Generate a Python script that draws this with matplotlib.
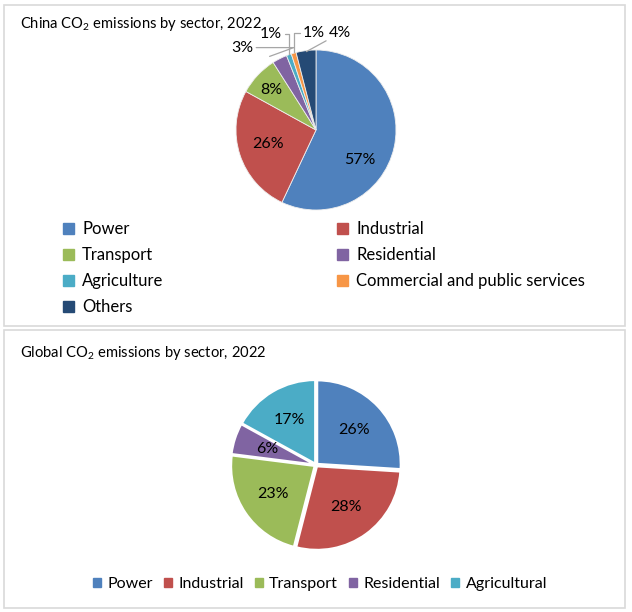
import matplotlib
matplotlib.use("Agg")
import matplotlib.pyplot as plt
from matplotlib.patches import Rectangle, Patch

plt.rcParams['font.family'] = ['Lato', 'DejaVu Sans']
plt.rcParams['mathtext.fontset'] = 'custom'
plt.rcParams['mathtext.rm'] = 'Lato'

# data
china_sectors = ['Power', 'Industrial', 'Transport', 'Residential', 'Agriculture',
                 'Commercial and public services', 'Others']
china_share = [57, 26, 8, 3, 1, 1, 4]
china_colors = ['#4F81BD', '#C0504D', '#9BBB59', '#8064A2', '#4BACC6', '#F79646', '#254A75']

global_sectors = ['Power', 'Industrial', 'Transport', 'Residential', 'Agricultural']
global_share = [26, 28, 23, 6, 17]
global_colors = ['#4F81BD', '#C0504D', '#9BBB59', '#8064A2', '#4BACC6']

W, H = 632, 612
fig = plt.figure(figsize=(W / 100, H / 100), dpi=100)

def px_axes(cx, cy, r):
    return fig.add_axes([(cx - r) / W, 1 - (cy + r) / H, 2 * r / W, 2 * r / H])

# panel borders
for (x0, y0, x1, y1) in [(4, 5, 625, 326), (4, 330, 625, 608)]:
    fig.patches.append(Rectangle((x0 / W, 1 - y1 / H), (x1 - x0) / W, (y1 - y0) / H,
                                 transform=fig.transFigure, fill=False,
                                 edgecolor='#D9D9D9', lw=1.2))

# ---- China pie
ax1 = px_axes(316, 130, 80)
wedges, _ = ax1.pie(china_share, colors=china_colors, startangle=90, counterclock=False,
                    wedgeprops=dict(linewidth=0.6, edgecolor='#EEEEEE'))
ax1.set_xlim(-1, 1)
ax1.set_ylim(-1, 1)
ax1.set_aspect('equal')
ax1.axis('off')

inner_pos = {0: (0.55, -0.37), 1: (-0.6, -0.17), 2: (-0.56, 0.5)}
for i, p in inner_pos.items():
    ax1.text(p[0], p[1], f'{china_share[i]}%', ha='center', va='center', fontsize=11.5)

# outside labels with leader lines
outer = {3: ((-0.92, 1.03), (-0.58, 0.92), 'angle,angleA=0,angleB=20'),
         4: ((-0.56, 1.2), (-0.34, 0.95), 'angle,angleA=0,angleB=90'),
         5: ((-0.03, 1.21), (-0.27, 0.97), 'angle,angleA=180,angleB=90'),
         6: ((0.3, 1.21), (-0.12, 0.98), 'arc3')}
for i, (tp, ep, cs) in outer.items():
    ax1.annotate(f'{china_share[i]}%', xy=ep, xytext=tp, ha='center', va='center',
                 fontsize=11.5, annotation_clip=False,
                 arrowprops=dict(arrowstyle='-', color='#A6A6A6', lw=0.9,
                                 connectionstyle=cs, shrinkA=0, shrinkB=0))

fig.text(20 / W, 1 - 24 / H, 'China CO$_\\mathregular{2}$ emissions by sector, 2022',
         fontsize=10.6, va='center', ha='left')

# legend filled row by row
order = list(range(0, len(china_sectors), 2)) + list(range(1, len(china_sectors), 2))
handles1 = [Patch(facecolor=china_colors[i], edgecolor=china_colors[i]) for i in order]
fig.legend(handles1, [china_sectors[i] for i in order], ncol=2, loc='upper left',
           bbox_to_anchor=(48 / W, 1 - 206 / H), frameon=False, fontsize=12,
           handlelength=0.65, handleheight=0.65, handletextpad=0.5,
           columnspacing=10.4, labelspacing=0.6)

# ---- Global pie
ax2 = px_axes(316, 465, 86)
ax2.pie(global_share, colors=global_colors, startangle=90, counterclock=False,
        explode=[0.02] * len(global_share), autopct='%d%%', pctdistance=0.6,
        textprops=dict(fontsize=11.5),
        wedgeprops=dict(linewidth=1.5, edgecolor='white'))
ax2.set_xlim(-1.03, 1.03)
ax2.set_ylim(-1.03, 1.03)
ax2.set_aspect('equal')
ax2.axis('off')

fig.text(20 / W, 1 - 353 / H, 'Global CO$_\\mathregular{2}$ emissions by sector, 2022',
         fontsize=10.6, va='center', ha='left')

handles2 = [Patch(facecolor=c, edgecolor=c) for c in global_colors]
fig.legend(handles2, global_sectors, ncol=5, loc='center',
           bbox_to_anchor=(320 / W, 1 - 584 / H), frameon=False, fontsize=11.5,
           handlelength=0.5, handleheight=0.5, handletextpad=0.4,
           columnspacing=0.7)

fig.savefig('out.png', dpi=100)
